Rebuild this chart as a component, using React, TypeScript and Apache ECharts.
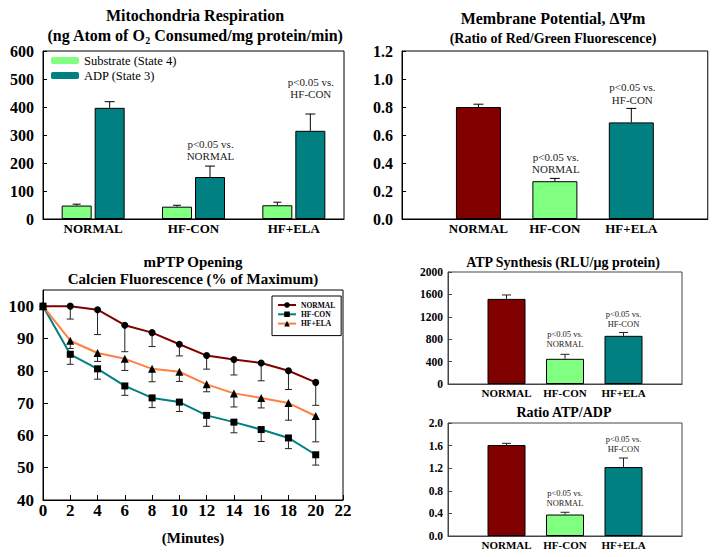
import React, { useEffect, useRef } from "react";
import * as echarts from "echarts";

// ---------- DATA ----------
const groups = ["NORMAL", "HF-CON", "HF+ELA"];

// Panel 1: Mitochondria respiration
const substrateState4 = [48, 44, 49];
const substrateState4Sem = [5, 5, 11];
const adpState3 = [397, 150, 315];
const adpState3Sem = [22, 39, 60];

// Panel 2: Membrane potential
const membranePotential = [0.8, 0.27, 0.69];
const membranePotentialSem = [0.02, 0.02, 0.1];

// Panel 3: mPTP opening
const minutes = [0, 2, 4, 6, 8, 10, 12, 14, 16, 18, 20];
const mptpNormal = [100, 100, 98.9, 94.1, 91.8, 88.2, 84.7, 83.5, 82.4, 80.0, 76.4];
const mptpNormalSem = [0, 4.0, 7.7, 8.2, 4.3, 3.6, 4.2, 4.8, 5.5, 5.8, 7.1];
const mptpHfCon = [100, 85.1, 80.6, 75.3, 71.6, 70.3, 66.2, 64.1, 61.8, 59.2, 54.0];
const mptpHfConSem = [0, 3.1, 3.2, 2.9, 3.0, 2.9, 3.4, 3.3, 3.7, 3.3, 3.2];
const mptpHfEla = [100, 89.3, 85.5, 83.7, 80.6, 79.7, 75.8, 73.0, 71.6, 70.0, 66.0];
const mptpHfElaSem = [0, 2.4, 2.6, 3.6, 4.0, 3.0, 2.3, 4.2, 3.1, 5.3, 8.0];

// Panel 4: ATP synthesis
const atpSynthesis = [1520, 450, 860];
const atpSynthesisSem = [70, 80, 60];

// Panel 5: ATP/ADP ratio
const atpAdpRatio = [1.61, 0.38, 1.22];
const atpAdpRatioSem = [0.03, 0.04, 0.16];

// Significance annotations (text anchored in data units)
const noteVsNormal = "p<0.05 vs.\nNORMAL";
const noteVsHfCon = "p<0.05 vs.\nHF-CON";
const respNoteY = [246, 468];
const membraneNoteY = [0.4, 0.896];
const atpNoteY = [812, 1160];
const ratioNoteY = [0.68, 1.62];

// ---------- STYLE ----------
const FONT = "Liberation Serif";
const C_RED = "#800000";
const C_GREEN = "#80FF80";
const C_TEAL = "#008080";
const C_ORANGE = "#FF8040";
const groupColors = [C_RED, C_GREEN, C_TEAL];

const padCats = [" ", ...groups, "  "];

function errRender(offset: number, capHalf: number, color = "#000") {
  return (params: any, api: any) => {
    const x = api.value(0);
    const v = api.value(1);
    const e = api.value(2);
    const p0 = api.coord([x, v]);
    const p1 = api.coord([x, e]);
    const cx = p0[0] + offset;
    const st = { stroke: color, lineWidth: 1 };
    return {
      type: "group",
      children: [
        { type: "line", shape: { x1: cx, y1: p0[1], x2: cx, y2: p1[1] }, style: st },
        { type: "line", shape: { x1: cx - capHalf, y1: p1[1], x2: cx + capHalf, y2: p1[1] }, style: st },
      ],
    };
  };
}

function noteRender(offset: number, fontSize: number) {
  return (params: any, api: any) => {
    const p = api.coord([api.value(0), api.value(1)]);
    const txt = params.dataIndex === 0 ? noteVsNormal : noteVsHfCon;
    return {
      type: "text",
      x: p[0] + offset,
      y: p[1],
      style: {
        text: txt,
        fill: "#222",
        fontSize,
        fontFamily: FONT,
        lineHeight: fontSize + 1.5,
        align: "center",
        verticalAlign: "middle",
        textAlign: "center",
        textVerticalAlign: "middle",
      },
    };
  };
}

function App() {
  const ref = useRef<HTMLDivElement>(null);

  useEffect(() => {
    if (!ref.current) return;
    const chart = echarts.init(ref.current, undefined, { renderer: "svg" });

    const boldLabel = (size: number, margin: number, fmt?: any) => ({
      fontFamily: FONT,
      fontWeight: "bold",
      fontSize: size,
      color: "#000",
      margin,
      formatter: fmt,
    });
    const axisLine = (c = "#000") => ({ show: true, lineStyle: { color: c, width: 1 } });

    const gridBase = { show: true, borderColor: "#000", borderWidth: 1, backgroundColor: "transparent", containLabel: false };

    const barSingle = (name: string, gi: number, vals: number[], width: number) => ({
      name,
      type: "bar",
      xAxisIndex: gi,
      yAxisIndex: gi,
      barWidth: width,
      data: vals.map((v, i) => ({
        value: [i + 1, v],
        itemStyle: { color: groupColors[i], borderColor: "#000", borderWidth: 1 },
      })),
      z: 2,
    });
    const errSingle = (gi: number, vals: number[], sem: number[], cap: number, color = "#000") => ({
      type: "custom",
      xAxisIndex: gi,
      yAxisIndex: gi,
      renderItem: errRender(0, cap, color),
      data: vals.map((v, i) => [i + 1, v, v + sem[i]]),
      z: 1,
      silent: true,
    });
    const noteSeries = (gi: number, ys: number[], xIdx: number[], offset: number, size: number) => ({
      type: "custom",
      xAxisIndex: gi,
      yAxisIndex: gi,
      renderItem: noteRender(offset, size),
      data: ys.map((y, i) => [xIdx[i], y]),
      z: 5,
      silent: true,
    });

    const lineSeries = (name: string, vals: number[], color: string, symbol: string, size: number) => ({
      name,
      type: "line",
      xAxisIndex: 2,
      yAxisIndex: 2,
      data: minutes.map((m, i) => [m, vals[i]]),
      symbol,
      symbolSize: size,
      showSymbol: true,
      lineStyle: { color, width: 2 },
      itemStyle: { color: "#000", borderColor: "#000", borderWidth: 0 },
      z: 3,
    });
    const lineErr = (vals: number[], sem: number[], color: string) => ({
      type: "custom",
      xAxisIndex: 2,
      yAxisIndex: 2,
      renderItem: errRender(0, 3.5, color),
      data: minutes
        .map((m, i) => [m, vals[i], vals[i] - sem[i], sem[i]])
        .filter((d) => d[3] > 0)
        .map((d) => [d[0], d[1], d[2]]),
      z: 2,
      silent: true,
    });

    const titleText = (x: number, y: number, text: string, size: number, rich?: any) => ({
      type: "text",
      x,
      y,
      silent: true,
      style: {
        text,
        fill: "#000",
        fontFamily: FONT,
        fontWeight: "bold",
        fontSize: size,
        align: "center",
        verticalAlign: "middle",
        textAlign: "center",
        textVerticalAlign: "middle",
        rich,
      },
    });

    const option: any = {
      animation: false,
      backgroundColor: "#fff",
      textStyle: { fontFamily: FONT },
      graphic: [
        titleText(195, 15, "Mitochondria Respiration", 16),
        titleText(195, 35, "{a|(ng Atom of O}{s|2}{a| Consumed/mg protein/min)}", 16, {
          a: { fontFamily: FONT, fontWeight: "bold", fontSize: 16, lineHeight: 20, fill: "#000", color: "#000" },
          s: { fontFamily: FONT, fontWeight: "bold", fontSize: 10, lineHeight: 12, verticalAlign: "bottom", fill: "#000", color: "#000" },
        }),
        titleText(553, 18, "Membrane Potential, \u0394\u03A8m", 16),
        titleText(553, 38, "(Ratio of Red/Green Fluorescence)", 14),
        titleText(193, 262, "mPTP Opening", 15),
        titleText(193, 279, "Calcien Fluorescence (% of Maximum)", 15),
        titleText(193, 538, "(Minutes)", 15),
        titleText(563, 262, "ATP Synthesis (RLU/\u03BCg protein)", 14),
        titleText(564, 412, "Ratio ATP/ADP", 14),
      ],
      legend: [
        {
          data: ["Substrate (State 4)", "ADP (State 3)"],
          orient: "vertical",
          left: 51,
          top: 54,
          padding: 0,
          itemWidth: 28,
          itemHeight: 7,
          itemGap: 2,
          selectedMode: false,
          itemStyle: { borderWidth: 0 },
          textStyle: { fontFamily: FONT, fontSize: 12.5, color: "#000" },
        },
        {
          data: ["NORMAL", "HF-CON", "HF+ELA"],
          orient: "vertical",
          left: 272,
          top: 296,
          padding: [5, 6, 8, 5],
          borderColor: "#000",
          borderWidth: 1,
          backgroundColor: "#fff",
          itemWidth: 18,
          itemHeight: 7,
          itemGap: 1.3,
          selectedMode: false,
          textStyle: { fontFamily: FONT, fontSize: 7.5, fontWeight: "bold", color: "#000" },
        },
      ],
      grid: [
        { ...gridBase, left: 43, top: 51, width: 301, height: 168 },
        { ...gridBase, left: 402, top: 51, width: 307, height: 168 },
        { ...gridBase, left: 43, top: 290, width: 300, height: 210 },
        { ...gridBase, left: 448, top: 272, width: 234, height: 112, borderColor: "#444" },
        { ...gridBase, left: 448, top: 423, width: 234, height: 113, borderColor: "#444" },
      ],
      xAxis: [
        {
          gridIndex: 0,
          type: "category",
          data: groups,
          boundaryGap: true,
          axisLine: axisLine(),
          axisTick: { show: false },
          axisLabel: boldLabel(13, 3),
        },
        {
          gridIndex: 1,
          type: "category",
          data: padCats,
          boundaryGap: false,
          axisLine: axisLine(),
          axisTick: { show: false },
          axisLabel: { ...boldLabel(13, 3), interval: 0 },
        },
        {
          gridIndex: 2,
          type: "value",
          min: 0,
          max: 22,
          interval: 2,
          axisLine: axisLine(),
          axisTick: { show: true, inside: true, length: 5, lineStyle: { color: "#000" } },
          splitLine: { show: false },
          axisLabel: boldLabel(17, 2),
        },
        {
          gridIndex: 3,
          type: "category",
          data: padCats,
          boundaryGap: false,
          axisLine: axisLine("#444"),
          axisTick: { show: false },
          axisLabel: { ...boldLabel(11, 3), interval: 0 },
        },
        {
          gridIndex: 4,
          type: "category",
          data: padCats,
          boundaryGap: false,
          axisLine: axisLine("#444"),
          axisTick: { show: false },
          axisLabel: { ...boldLabel(11, 3), interval: 0 },
        },
      ],
      yAxis: [
        {
          gridIndex: 0,
          type: "value",
          min: 0,
          max: 600,
          interval: 100,
          axisLine: axisLine(),
          axisTick: { show: true, inside: true, length: 4, lineStyle: { color: "#000" } },
          splitLine: { show: false },
          axisLabel: boldLabel(16, 9),
        },
        {
          gridIndex: 1,
          type: "value",
          min: 0,
          max: 1.2,
          interval: 0.2,
          axisLine: axisLine(),
          axisTick: { show: true, inside: true, length: 4, lineStyle: { color: "#000" } },
          splitLine: { show: false },
          axisLabel: boldLabel(16, 9, (v: number) => v.toFixed(1)),
        },
        {
          gridIndex: 2,
          type: "value",
          min: 40,
          max: 105,
          interval: 10,
          axisLine: axisLine(),
          axisTick: { show: true, inside: true, length: 5, lineStyle: { color: "#000" } },
          splitLine: { show: false },
          axisLabel: { ...boldLabel(17, 9), showMaxLabel: false },
        },
        {
          gridIndex: 3,
          type: "value",
          min: 0,
          max: 2000,
          interval: 400,
          axisLine: axisLine("#444"),
          axisTick: { show: true, inside: true, length: 4, lineStyle: { color: "#444" } },
          splitLine: { show: false },
          axisLabel: boldLabel(11.5, 5, (v: number) => String(v)),
        },
        {
          gridIndex: 4,
          type: "value",
          min: 0,
          max: 2,
          interval: 0.4,
          axisLine: axisLine("#444"),
          axisTick: { show: true, inside: true, length: 4, lineStyle: { color: "#444" } },
          splitLine: { show: false },
          axisLabel: boldLabel(11.5, 5, (v: number) => v.toFixed(1)),
        },
      ],
      series: [
        // Panel 1
        {
          name: "Substrate (State 4)",
          type: "bar",
          xAxisIndex: 0,
          yAxisIndex: 0,
          barWidth: 30,
          barGap: "10%",
          data: substrateState4,
          itemStyle: { color: C_GREEN, borderColor: "#000", borderWidth: 1 },
          z: 2,
        },
        {
          name: "ADP (State 3)",
          type: "bar",
          xAxisIndex: 0,
          yAxisIndex: 0,
          barWidth: 30,
          barGap: "10%",
          data: adpState3,
          itemStyle: { color: C_TEAL, borderColor: "#000", borderWidth: 1 },
          z: 2,
        },
        {
          type: "custom",
          xAxisIndex: 0,
          yAxisIndex: 0,
          renderItem: errRender(-16.5, 4),
          data: substrateState4.map((v, i) => [i, v, v + substrateState4Sem[i]]),
          z: 1,
          silent: true,
        },
        {
          type: "custom",
          xAxisIndex: 0,
          yAxisIndex: 0,
          renderItem: errRender(16.5, 5),
          data: adpState3.map((v, i) => [i, v, v + adpState3Sem[i]]),
          z: 1,
          silent: true,
        },
        noteSeries(0, respNoteY, [1, 2], 17, 11),
        // Panel 2
        barSingle("Membrane", 1, membranePotential, 45),
        errSingle(1, membranePotential, membranePotentialSem, 5),
        noteSeries(1, membraneNoteY, [2, 3], 1, 11),
        // Panel 3
        lineErr(mptpNormal, mptpNormalSem, "#222"),
        lineErr(mptpHfCon, mptpHfConSem, "#222"),
        lineErr(mptpHfEla, mptpHfElaSem, "#222"),
        lineSeries("NORMAL", mptpNormal, C_RED, "circle", 7),
        lineSeries("HF-CON", mptpHfCon, C_TEAL, "rect", 7),
        lineSeries("HF+ELA", mptpHfEla, C_ORANGE, "triangle", 8),
        // Panel 4
        barSingle("ATP", 3, atpSynthesis, 38),
        errSingle(3, atpSynthesis, atpSynthesisSem, 4.5, "#222"),
        noteSeries(3, atpNoteY, [2, 3], 0, 8.5),
        // Panel 5
        barSingle("Ratio", 4, atpAdpRatio, 38),
        errSingle(4, atpAdpRatio, atpAdpRatioSem, 4.5, "#222"),
        noteSeries(4, ratioNoteY, [2, 3], 0, 8.5),
      ],
    };

    chart.setOption(option);
    return () => chart.dispose();
  }, []);

  return (
    <div
      ref={ref}
      style={{ position: "fixed", left: 0, top: 0, width: 714, height: 557, background: "#fff" }}
    />
  );
}

export default App;
